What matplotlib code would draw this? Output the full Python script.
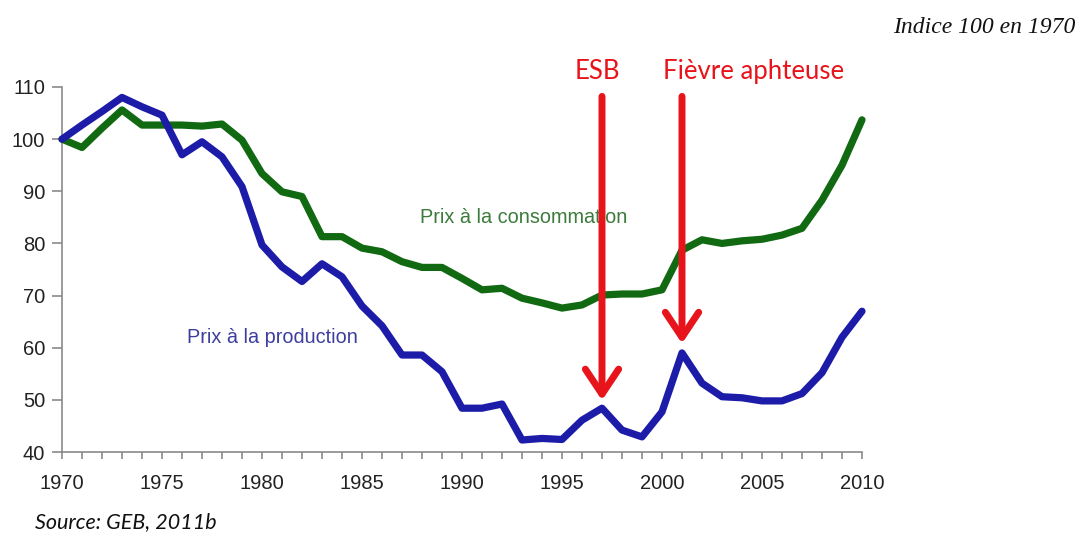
import matplotlib
matplotlib.use('Agg')
import matplotlib.pyplot as plt
import numpy as np

# Indice 100 en 1970 - prix de la viande bovine
years = list(range(1970, 2011))
prix_production = [100, 102.7, 105.3, 108, 106.2, 104.6, 97, 99.5, 96.6, 90.9,
                   79.7, 75.5, 72.7, 76.1, 73.6, 68, 64.2, 58.6, 58.6, 55.4,
                   48.4, 48.4, 49.2, 42.3, 42.6, 42.4, 46.1, 48.4, 44.2, 42.9,
                   47.7, 59, 53.2, 50.6, 50.4, 49.8, 49.8, 51.2, 55.2, 62,
                   67]
prix_consommation = [100, 98.4, 102.1, 105.6, 102.7, 102.7, 102.7, 102.5, 102.9, 99.8,
                     93.4, 89.9, 89, 81.3, 81.3, 79.1, 78.4, 76.5, 75.4, 75.4,
                     73.3, 71.1, 71.4, 69.5, 68.6, 67.6, 68.2, 70.1, 70.3, 70.3,
                     71.1, 78.7, 80.7, 80, 80.5, 80.8, 81.6, 82.9, 88.3, 95,
                     103.7]

crises = ['ESB', 'Fièvre aphteuse']
crise_annee = [1997, 2001]
crise_pointe = [49.9, 60.8]

GREEN = '#116a11'
BLUE = '#1c1ca8'
RED = '#e8141b'
GREY = '#8a8a8a'

fig = plt.figure(figsize=(10.8, 5.38), dpi=100)
ax = fig.add_axes([62 / 1080, 1 - 452 / 538, 800 / 1080, 365 / 538])

ax.plot(years, prix_consommation, color=GREEN, lw=5.2, solid_joinstyle='round',
        solid_capstyle='round', zorder=3, clip_on=False)
ax.plot(years, prix_production, color=BLUE, lw=5.2, solid_joinstyle='round',
        solid_capstyle='round', zorder=3, clip_on=False)

ax.set_xlim(1970, 2010)
ax.set_ylim(40, 110)
ax.set_yticks(np.arange(40, 111, 10))
ax.set_xticks(years)
ax.set_xticklabels([str(y) if y % 5 == 0 else '' for y in years])

for s in ['top', 'right']:
    ax.spines[s].set_visible(False)
for s in ['left', 'bottom']:
    ax.spines[s].set_color(GREY)
    ax.spines[s].set_linewidth(1.2)

ax.tick_params(axis='both', direction='out', colors=GREY, length=5, width=1.2)
ax.tick_params(axis='y', length=7, pad=5)
ax.tick_params(axis='x', pad=11)
for lab in ax.get_xticklabels() + ax.get_yticklabels():
    lab.set_fontfamily(['Liberation Sans', 'DejaVu Sans'])
    lab.set_fontsize(14.5)
    lab.set_color('#222222')

ax.text(1987.9, 85, 'Prix à la consommation', color='#3b7b3b', fontsize=14.3,
        family=['Liberation Sans', 'DejaVu Sans'], ha='left', va='center', zorder=2)
ax.text(1976.25, 61.9, 'Prix à la production', color='#3e3ea0', fontsize=14.3,
        family=['Liberation Sans', 'DejaVu Sans'], ha='left', va='center', zorder=2)

# fleches des crises
label_x = [1996.75, 2004.6]
for nom, an, pointe, lx in zip(crises, crise_annee, crise_pointe, label_x):
    ax.annotate('', xy=(an, pointe), xytext=(an, 108.2),
                arrowprops=dict(arrowstyle='->,head_length=0.9,head_width=0.6',
                                color=RED, lw=5, mutation_scale=20,
                                shrinkA=0, shrinkB=0),
                annotation_clip=False, zorder=5)
    ax.text(lx, 112.9, nom, color=RED, fontsize=18.5, family=['Lato', 'DejaVu Sans'],
            ha='center', va='center', clip_on=False)

fig.text(1075 / 1080, 1 - 28 / 538, 'Indice 100 en 1970', style='italic',
         fontsize=17, family=['Liberation Serif', 'DejaVu Serif'],
         ha='right', va='center', color='#111111')
fig.text(35 / 1080, 1 - 522 / 538, 'Source: GEB, 2011b', style='italic',
         fontsize=15.5, family=['Lato', 'DejaVu Sans'],
         ha='left', va='center', color='#111111')

fig.savefig('out.png', dpi=100)
